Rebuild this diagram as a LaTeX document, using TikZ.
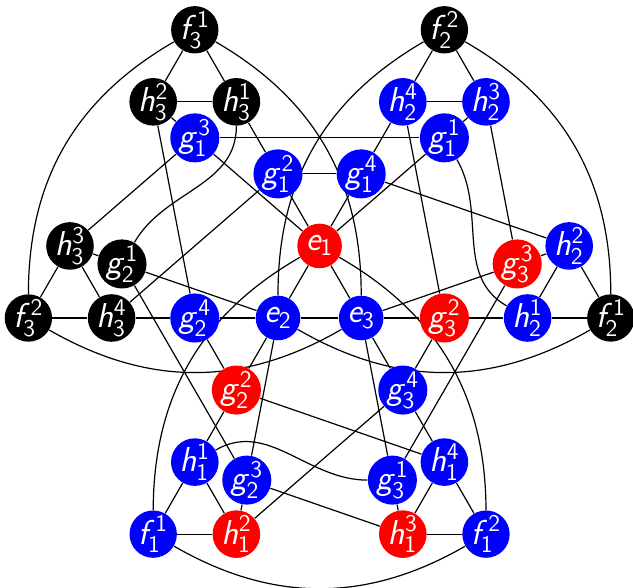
\documentclass[tikz,border=0pt]{standalone}
\usetikzlibrary{backgrounds}
\DeclareMathAlphabet{\mathsfit}{OT1}{cmss}{m}{sl}
\newcommand\lb[3]{$\mathsfit{#1}^{\mathsf{#2}}_{\mathsf{#3}}$}
\newcommand\lbe[1]{$\mathsfit{e}_{\mathsf{#1}}$}
\tikzset{
  vtx/.style={circle, minimum size=22.3pt, inner sep=0pt, text=white, font=\LARGE},
  vb/.style={vtx, fill=black},
  vu/.style={vtx, fill=blue},
  vr/.style={vtx, fill=red},
  edge/.style={line width=0.6pt, black}
}
\begin{document}
\begin{tikzpicture}[x=41.6pt, y=36.025pt]
\useasboundingbox (-139pt,-135pt) rectangle (177.5pt,159pt);
% nodes
\node[vb] (f31) at (-1,4) {\lb{f}{1}{3}};
\node[vb] (f22) at (2,4) {\lb{f}{2}{2}};
\node[vb] (h32) at (-1.5,3) {\lb{h}{2}{3}};
\node[vb] (h31) at (-0.5,3) {\lb{h}{1}{3}};
\node[vu] (h24) at (1.5,3) {\lb{h}{4}{2}};
\node[vu] (h23) at (2.5,3) {\lb{h}{3}{2}};
\node[vu] (g13) at (-1,2.5) {\lb{g}{3}{1}};
\node[vu] (g11) at (2,2.5) {\lb{g}{1}{1}};
\node[vu] (g12) at (0,2) {\lb{g}{2}{1}};
\node[vu] (g14) at (1,2) {\lb{g}{4}{1}};
\node[vr] (e1) at (0.5,1) {\lbe{1}};
\node[vb] (h33) at (-2.5,1) {\lb{h}{3}{3}};
\node[vu] (h22) at (3.5,1) {\lb{h}{2}{2}};
\node[vb] (g21) at (-1.875,0.75) {\lb{g}{1}{2}};
\node[vr] (g33) at (2.875,0.75) {\lb{g}{3}{3}};
\node[vb] (f32) at (-3,0) {\lb{f}{2}{3}};
\node[vb] (h34) at (-2,0) {\lb{h}{4}{3}};
\node[vu] (g24) at (-1,0) {\lb{g}{4}{2}};
\node[vu] (e2) at (0,0) {\lbe{2}};
\node[vu] (e3) at (1,0) {\lbe{3}};
\node[vr] (g32) at (2,0) {\lb{g}{2}{3}};
\node[vu] (h21) at (3,0) {\lb{h}{1}{2}};
\node[vb] (f21) at (4,0) {\lb{f}{1}{2}};
\node[vr] (g22) at (-0.5,-1) {\lb{g}{2}{2}};
\node[vu] (g34) at (1.5,-1) {\lb{g}{4}{3}};
\node[vu] (h11) at (-1,-2) {\lb{h}{1}{1}};
\node[vu] (h14) at (2,-2) {\lb{h}{4}{1}};
\node[vu] (g23) at (-0.375,-2.25) {\lb{g}{3}{2}};
\node[vu] (g31) at (1.375,-2.25) {\lb{g}{1}{3}};
\node[vu] (f11) at (-1.5,-3) {\lb{f}{1}{1}};
\node[vr] (h12) at (-0.5,-3) {\lb{h}{2}{1}};
\node[vr] (h13) at (1.5,-3) {\lb{h}{3}{1}};
\node[vu] (f12) at (2.5,-3) {\lb{f}{2}{1}};
% edges
\begin{scope}[on background layer, every path/.style={edge}]
\draw (f31) -- (h32); \draw (f31) -- (h31); \draw (h32) -- (h31);
\draw (f22) -- (h24); \draw (f22) -- (h23); \draw (h24) -- (h23);
\draw (f32) -- (h33); \draw (f32) -- (h34); \draw (h33) -- (h34);
\draw (f21) -- (h22); \draw (f21) -- (h21); \draw (h22) -- (h21);
\draw (f11) -- (h11); \draw (f11) -- (h12); \draw (h11) -- (h12);
\draw (f12) -- (h14); \draw (f12) -- (h13); \draw (h14) -- (h13);
\draw (e1) -- (e2); \draw (e1) -- (e3); \draw (e2) -- (e3);
\draw (g13) -- (g11); \draw (g12) -- (g14);
\draw (g21) -- (g23); \draw (g22) -- (g24);
\draw (g33) -- (g31); \draw (g32) -- (g34);
\draw (g13) -- (h32); \draw (g13) -- (h33); \draw (g13) -- (e1);
\draw (g11) -- (h23); \draw (g11) -- (e1);
\draw (g12) -- (h31); \draw (g12) -- (e1); \draw (g12) -- (h34);
\draw (g14) -- (h24); \draw (g14) -- (e1); \draw (g14) -- (h22);
\draw (g23) -- (h12); \draw (g23) -- (h13); \draw (g23) -- (e2);
\draw (g21) -- (h33); \draw (g21) -- (e2);
\draw (g22) -- (h11); \draw (g22) -- (e2); \draw (g22) -- (h14);
\draw (g24) -- (h34); \draw (g24) -- (e2); \draw (g24) -- (h32);
\draw (g33) -- (h22); \draw (g33) -- (h23); \draw (g33) -- (e3);
\draw (g31) -- (h13); \draw (g31) -- (e3);
\draw (g32) -- (h21); \draw (g32) -- (e3); \draw (g32) -- (h24);
\draw (g34) -- (h14); \draw (g34) -- (e3); \draw (g34) -- (h12);
% curves
\draw (f31) to[bend right=30] (f32);
\draw (f22) to[bend left=30] (f21);
\draw (f11) to[bend right=30] (f12);
\draw (f31) to[bend left=30] (e3);
\draw (f22) to[bend right=30] (e2);
\draw (f32) to[bend right=30] (e3);
\draw (f11) to[bend left=30] (e1);
\draw (f12) to[bend right=30] (e1);
\draw (f21) to[bend left=30] (e2);
\draw (h31) to[out=-90, in=60] (g21);
\draw (h21) to[out=150, in=-60] (g11);
\draw (h11) to[out=30, in=180] (g31);
\end{scope}
\end{tikzpicture}
\end{document}
